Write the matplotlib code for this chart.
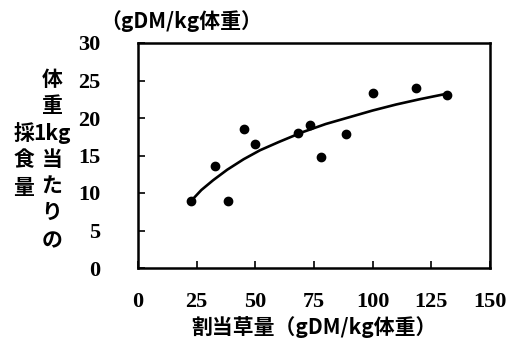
import numpy as np
import matplotlib
matplotlib.use('Agg')
import matplotlib.pyplot as plt

# observed points (allotted herbage vs intake per kg body weight)
herbage = [22.5, 33, 38.5, 45, 50, 68, 73.5, 78, 88.5, 100, 118.5, 131.5]
intake  = [8.9, 13.6, 8.9, 18.5, 16.5, 18.0, 19.1, 14.8, 17.9, 23.3, 24.0, 23.1]

# fitted curve
curve_x = [22.5, 27, 32, 38, 45, 52, 60, 70, 80, 90, 100, 110, 120, 131]
curve_y = [8.9, 10.4, 11.7, 13.1, 14.5, 15.7, 16.8, 18.1, 19.2, 20.1, 21.0, 21.8, 22.5, 23.2]

xticks = [0, 25, 50, 75, 100, 125, 150]
yticks = [0, 5, 10, 15, 20, 25, 30]

num_font = {'family': 'Liberation Serif', 'weight': 'bold', 'size': 16}
jp_font = {'family': ['Noto Sans CJK JP', 'DejaVu Sans'], 'size': 15, 'weight': 'bold'}

fig = plt.figure(figsize=(5.09, 3.5), dpi=100)
ax = fig.add_axes([138/509., 82/350., 352/509., 225/350.])

ax.plot(curve_x, curve_y, color='black', linewidth=1.9, solid_capstyle='round')
ax.plot(herbage, intake, 'o', color='black', markersize=6)

ax.set_xlim(0, 150)
ax.set_ylim(0, 30)
ax.set_xticks(xticks)
ax.set_yticks(yticks)
ax.set_xticklabels([str(v) for v in xticks], fontdict=num_font)
ax.set_yticklabels([str(v) for v in yticks], fontdict=num_font)
ax.tick_params(axis='x', direction='in', length=5, width=1.2, pad=17)
ax.tick_params(axis='y', direction='in', length=5, width=1.2, pad=27)
for s in ax.spines.values():
    s.set_linewidth(1.8)

ax.set_xlabel('割当草量（gDM/kg体重）', fontdict=jp_font, labelpad=3)

# unit on top of y axis
fig.text(100/509., 1 - 21/350., '（gDM/kg体重）', ha='left', va='center', **jp_font)

# vertical y label, two columns (right column read first)
col1 = ['体', '重', '1kg', '当', 'た', 'り', 'の']
col1_y = [80, 105, 133, 159, 186, 212, 241]
col2 = ['採', '食', '量']
col2_y = [134, 160, 187]
for t, yy in zip(col1, col1_y):
    fig.text(52/509., 1 - yy/350., t, ha='center', va='center', **jp_font)
for t, yy in zip(col2, col2_y):
    fig.text(24/509., 1 - yy/350., t, ha='center', va='center', **jp_font)

fig.savefig('out.png', dpi=100)
